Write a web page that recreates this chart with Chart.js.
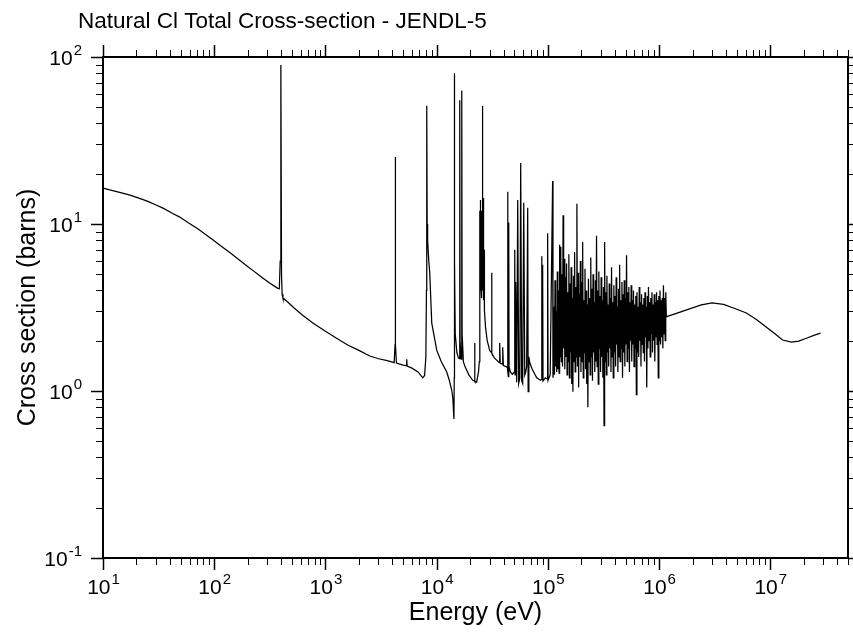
<!DOCTYPE html>
<html>
<head>
<meta charset="utf-8">
<title>Natural Cl Total Cross-section - JENDL-5</title>
<script src="https://cdn.jsdelivr.net/npm/chart.js@4.4.0/dist/chart.umd.min.js"></script>
<style>
  html, body { margin: 0; padding: 0; background: #fff; }
</style>
</head>
<body>
<canvas id="myChart" width="853" height="636"></canvas>
<script>
'use strict';
/*---------------- chart text ----------------*/
const chartTitle = 'Natural Cl Total Cross-section - JENDL-5';
const xTitle = 'Energy (eV)';
const yTitle = 'Cross section (barns)';
const xExponents = [1, 2, 3, 4, 5, 6, 7]; // tick labels 10^n on the energy axis
const yExponents = [-1, 0, 1, 2]; // tick labels 10^n on the cross section axis
const xMin = 10;
const xMax = 5e7;
const yMin = 0.1;
const yMax = 100;

/*---------------- data ----------------*/
// 10 eV up to the 24 keV cluster (eV, barns)
const lowEnergy = [10, 11.5, 13, 15, 17.5, 21, 25, 30, 35, 42, 49, 58, 70, 82, 97, 115, 140, 165, 197, 225, 250, 275, 297, 320, 345, 373, 385, 392, 397.5, 403, 408, 415, 450, 520, 620, 771, 1000, 1259, 1600, 2000, 2506, 3000, 3600, 4150, 4230, 4250, 4270, 4350, 5000, 5330, 5380, 5430, 6000, 6800, 7500, 7800, 8000, 8100, 8150, 8220, 8300, 8500, 8670, 9040, 10030, 11000, 12330, 13000, 13680, 14000, 14300, 14400, 14450, 14500, 14700, 15200, 15700, 16050, 16140, 16250, 16600, 16830, 16950, 17400, 18000, 19500, 21100, 21900, 21980, 22100, 22900, 23800];
const lowSigma = [16.4, 16.0, 15.7, 15.3, 14.9, 14.3, 13.7, 13.0, 12.4, 11.6, 11.0, 10.2, 9.42, 8.75, 8.05, 7.39, 6.7, 6.15, 5.61, 5.24, 4.96, 4.73, 4.56, 4.4, 4.26, 4.12, 4.1, 6.0, 89.6, 5.0, 3.8, 3.6, 3.45, 3.15, 2.85, 2.55, 2.28, 2.07, 1.88, 1.75, 1.62, 1.56, 1.52, 1.48, 1.9, 25.2, 1.9, 1.47, 1.43, 1.42, 1.55, 1.41, 1.37, 1.3, 1.2, 1.24, 1.6, 4, 51, 10, 8, 6, 5.1, 2.55, 1.75, 1.5, 1.3, 1.16, 1.01, 0.9, 0.68, 1.2, 80, 6, 2.2, 1.7, 1.58, 1.56, 55, 2.0, 1.55, 63, 2.2, 1.5, 1.4, 1.25, 1.16, 1.15, 1.94, 1.14, 1.13, 1.3];

// 24 keV - 112 keV, separated resonances (eV, barns)
const resEnergy = [24200, 24400, 24450, 24500, 24550, 24600, 24650, 24700, 24750, 24800, 24870, 24950, 25020, 25100, 25170, 25250, 25320, 25400, 25470, 25550, 25620, 25700, 25780, 25850, 25900, 25960, 26000, 26050, 26120, 26200, 26270, 26350, 26420, 26500, 26570, 26650, 26720, 26800, 26900, 27000, 27500, 28500, 30000, 31100, 31260, 31400, 33000, 35000, 36500, 36900, 37300, 38800, 39300, 39800, 42000, 43300, 43500, 43800, 44100, 44500, 44800, 46000, 48000, 50000, 50400, 50800, 51400, 52500, 53600, 54700, 56000, 57000, 58200, 59400, 60700, 62000, 63200, 64500, 65900, 66500, 67500, 68700, 72000, 79400, 86000, 87500, 88000, 88500, 89800, 90500, 95000, 98500, 99600, 100500, 105000, 110400, 111200];
const resSigma = [1.5, 3.0, 9, 12, 5, 4, 10, 13.9, 6, 5, 8, 11, 4.5, 4.2, 7, 9, 4, 3.6, 8, 12, 5, 4.5, 9, 8, 4, 50.9, 5, 6, 11, 10, 4.5, 4, 9, 14.3, 5, 3.5, 6, 7, 3.5, 3.05, 2.42, 2.0, 1.75, 1.7, 5.1, 1.68, 1.58, 1.52, 1.48, 1.94, 1.47, 1.45, 1.83, 1.42, 1.4, 1.38, 15.6, 1.3, 1.22, 10.2, 1.4, 1.3, 1.26, 1.3, 7.0, 1.25, 4.5, 1.13, 13.9, 1.11, 1.2, 23.2, 1.15, 1.11, 13.4, 1.25, 1.3, 1.4, 12.5, 0.99, 1.6, 1.48, 1.36, 1.2, 1.16, 1.17, 6.4, 1.2, 5.7, 1.15, 1.2, 1.18, 8.8, 1.16, 1.25, 18.1, 1.2];

// 112 keV - 1.16 MeV, dense band (keV, barns)
const denseKeV = [112, 113.3, 114.7, 116, 117.4, 118.8, 120.2, 121.7, 123.1, 124.6,
  126.1, 127.6, 129.1, 130.7, 132.3, 133.9, 135.5, 137.1, 138.7, 140.4,
  142.1, 143.8, 145.5, 147.3, 149, 150.8, 152.6, 154.5, 156.3, 158.2,
  160.1, 162, 164, 166, 168, 170, 172, 174, 176.1, 178.2,
  180.4, 182.5, 184.7, 187, 189.2, 191.5, 193.8, 196.1, 198.5, 200.9,
  203.3, 205.7, 208.2, 210.7, 213.2, 215.8, 218.4, 221, 223.7, 226.4,
  229.1, 231.8, 234.6, 237.4, 240.3, 243.2, 246.1, 249.1, 252, 255.1,
  258.1, 261.2, 264.4, 267.6, 270.8, 274, 277.3, 280.7, 284, 287.5,
  290.9, 294.4, 298, 301.5, 305.2, 308.8, 312.5, 316.3, 320.1, 324,
  327.9, 331.8, 335.8, 339.8, 343.9, 348, 352.2, 356.5, 360.7, 365.1,
  369.5, 373.9, 378.4, 383, 387.5, 392.2, 396.9, 401.7, 406.5, 411.4,
  416.4, 421.4, 426.4, 431.6, 436.8, 442, 447.3, 452.7, 458.2, 463.7,
  469.3, 474.9, 480.6, 486.4, 492.3, 498.2, 504.2, 510.2, 516.3, 522.5,
  528.8, 535.2, 541.6, 548.1, 554.7, 561.4, 568.1, 575, 581.9, 588.9,
  596, 603.1, 610.4, 617.7, 625.1, 632.6, 640.2, 647.9, 655.7, 663.6,
  671.5, 679.6, 687.8, 696, 704.4, 712.9, 721.4, 730.1, 738.9, 747.7,
  756.7, 765.8, 775, 784.3, 793.7, 803.2, 812.9, 822.6, 832.5, 842.5,
  852.6, 862.8, 873.2, 883.7, 894.3, 905, 915.9, 926.9, 938, 949.3,
  960.7, 972.2, 983.9, 995.7, 1007.6, 1019.7, 1032, 1044.4, 1056.9, 1069.6,
  1082.4, 1095.4, 1108.5, 1121.8, 1135.3, 1148.9, 1162.7];
const denseSigma = [1.3, 3.2, 1.25, 4.6, 1.4, 3.0, 1.3, 5.2, 1.35, 4.0,
  1.28, 7.5, 1.6, 7.3, 1.5, 5.0, 1.4, 11.3, 1.8, 6.2,
  1.35, 4.8, 1.6, 5.8, 1.25, 3.9, 1.5, 6.6, 1.2, 4.4,
  1.7, 5.5, 1.1, 3.6, 0.99, 4.9, 1.5, 6.8, 1.3, 4.2,
  1.6, 13.2, 1.4, 5.1, 1.05, 3.8, 1.6, 6.0, 1.3, 4.5,
  1.5, 7.8, 1.2, 3.5, 1.7, 5.4, 1.35, 4.0, 1.1, 3.3,
  0.8, 4.7, 1.5, 3.6, 1.25, 6.3, 1.6, 4.1, 1.15, 5.0,
  1.7, 3.4, 1.3, 4.6, 1.5, 8.5, 1.4, 4.0, 1.1, 5.2,
  1.8, 3.7, 1.3, 4.8, 1.6, 3.5, 1.2, 4.2, 0.62, 7.8,
  1.5, 3.9, 1.25, 4.9, 1.7, 3.3, 1.4, 4.4, 1.8, 3.6,
  1.3, 5.5, 1.6, 3.4, 1.2, 4.3, 1.7, 3.7, 1.4, 4.8,
  1.9, 3.2, 1.3, 4.1, 1.6, 5.7, 1.5, 3.5, 1.8, 4.5,
  1.2, 3.8, 1.7, 4.6, 1.4, 3.6, 1.9, 6.5, 1.5, 3.9,
  1.8, 4.2, 1.3, 3.4, 2.0, 4.3, 1.5, 3.5, 1.9, 4.0,
  1.4, 3.3, 1.8, 3.7, 0.95, 3.9, 1.7, 3.2, 1.6, 4.2,
  2.0, 3.4, 1.4, 3.8, 1.9, 3.3, 1.7, 3.6, 1.5, 3.9,
  2.1, 3.2, 1.05, 3.7, 1.8, 4.2, 2.0, 3.4, 1.6, 3.6,
  2.2, 3.9, 1.7, 3.3, 2.0, 3.8, 1.5, 3.4, 2.1, 3.9,
  1.9, 3.5, 1.2, 3.7, 2.0, 4.0, 1.9, 3.5, 2.1, 3.6,
  1.8, 4.3, 2.2, 3.6, 2.0, 3.9, 2.8];

// 1.17 MeV - 28 MeV, smooth fast region (eV, barns)
const fastEnergy = [1.17e6, 1.5e6, 1.88e6, 2.4e6, 3.0e6, 3.8e6, 4.8e6, 6.1e6, 7.5e6, 9.25e6, 1.1e7, 1.29e7, 1.55e7, 1.8e7, 2.11e7, 2.5e7, 2.83e7];
const fastSigma = [2.79, 2.95, 3.1, 3.28, 3.37, 3.3, 3.12, 2.93, 2.68, 2.41, 2.2, 2.02, 1.96, 1.99, 2.07, 2.16, 2.22];

/*---------------- build the points ----------------*/
const points = [];
for (let i = 0; i < lowEnergy.length; i++) {
  points.push({ x: lowEnergy[i], y: lowSigma[i] });
}
for (let i = 0; i < resEnergy.length; i++) {
  points.push({ x: resEnergy[i], y: resSigma[i] });
}
for (let i = 0; i < denseKeV.length; i++) {
  points.push({ x: denseKeV[i] * 1000, y: denseSigma[i] });
}
for (let i = 0; i < fastEnergy.length; i++) {
  points.push({ x: fastEnergy[i], y: fastSigma[i] });
}

const fontFamily = '"Liberation Sans", Arial, Helvetica, sans-serif';

// draws "10" with a raised exponent
function drawPower(ctx, exp, x, y, align) {
  ctx.font = '21px ' + fontFamily;
  const baseWidth = ctx.measureText('10').width;
  ctx.font = '15px ' + fontFamily;
  const supWidth = ctx.measureText(String(exp)).width;
  let start = x - (baseWidth + supWidth) / 2;
  if (align === 'right') {
    start = x - baseWidth - supWidth;
  }
  ctx.font = '21px ' + fontFamily;
  ctx.fillText('10', start, y);
  ctx.font = '15px ' + fontFamily;
  ctx.fillText(String(exp), start + baseWidth + 1, y - 10);
}

/*---------------- frame, outward ticks, labels, title ----------------*/
const framePlugin = {
  id: 'framePlugin',
  afterDraw(chart) {
    const ctx = chart.ctx;
    const area = chart.chartArea;
    const xScale = chart.scales.x;
    const yScale = chart.scales.y;
    ctx.save();
    ctx.strokeStyle = '#000';
    ctx.fillStyle = '#000';

    // energy axis ticks, bottom and top
    for (let e = 1; e <= 7; e++) {
      for (let m = 1; m <= 9; m++) {
        const value = m * Math.pow(10, e);
        if (value > xMax) break;
        const px = Math.round(xScale.getPixelForValue(value)) + 0.5;
        const len = m === 1 ? 12 : 7;
        ctx.lineWidth = m === 1 ? 1.5 : 1;
        ctx.beginPath();
        ctx.moveTo(px, area.bottom);
        ctx.lineTo(px, area.bottom + len);
        ctx.moveTo(px, area.top);
        ctx.lineTo(px, area.top - len);
        ctx.stroke();
      }
    }
    // cross section axis ticks, left and right
    for (let e = -1; e <= 2; e++) {
      for (let m = 1; m <= 9; m++) {
        const value = m * Math.pow(10, e);
        if (value > yMax) break;
        const py = Math.round(yScale.getPixelForValue(value)) + 0.5;
        const len = m === 1 ? 12 : 7;
        ctx.lineWidth = m === 1 ? 1.5 : 1;
        ctx.beginPath();
        ctx.moveTo(area.left, py);
        ctx.lineTo(area.left - len, py);
        ctx.moveTo(area.right, py);
        ctx.lineTo(area.right + len, py);
        ctx.stroke();
      }
    }

    // box
    ctx.lineWidth = 2;
    ctx.strokeRect(area.left, area.top, area.right - area.left, area.bottom - area.top);

    // tick labels
    ctx.textBaseline = 'alphabetic';
    ctx.textAlign = 'left';
    for (let i = 0; i < xExponents.length; i++) {
      const px = xScale.getPixelForValue(Math.pow(10, xExponents[i]));
      drawPower(ctx, xExponents[i], px, area.bottom + 36, 'center');
    }
    for (let i = 0; i < yExponents.length; i++) {
      const py = yScale.getPixelForValue(Math.pow(10, yExponents[i]));
      drawPower(ctx, yExponents[i], area.left - 22, py + 8, 'right');
    }

    // title
    ctx.font = '22.5px ' + fontFamily;
    ctx.fillText(chartTitle, 78, 28);
    ctx.restore();
  }
};

/*---------------- chart ----------------*/
const ctx = document.getElementById('myChart').getContext('2d');
const chart = new Chart(ctx, {
  type: 'line',
  data: {
    datasets: [{
      label: 'Natural Cl total',
      data: points,
      borderColor: '#000',
      borderWidth: 1.25,
      pointRadius: 0,
      tension: 0,
      fill: false
    }]
  },
  options: {
    responsive: false,
    animation: false,
    layout: { padding: { top: 57, right: 5, left: 0, bottom: 0 } },
    plugins: {
      legend: { display: false },
      tooltip: { enabled: false }
    },
    scales: {
      x: {
        type: 'logarithmic',
        min: xMin,
        max: xMax,
        grid: { display: false },
        border: { display: false },
        ticks: { display: false },
        title: {
          display: true,
          text: xTitle,
          color: '#000',
          font: { family: fontFamily, size: 25 },
          padding: { top: 0, bottom: 8 }
        },
        afterFit(scale) { scale.height = 78; }
      },
      y: {
        type: 'logarithmic',
        min: yMin,
        max: yMax,
        grid: { display: false },
        border: { display: false },
        ticks: { display: false },
        title: {
          display: true,
          text: yTitle,
          color: '#000',
          font: { family: fontFamily, size: 25 },
          padding: { top: 13, bottom: 0 }
        },
        afterFit(scale) { scale.width = 103; }
      }
    }
  },
  plugins: [framePlugin]
});
</script>
</body>
</html>
